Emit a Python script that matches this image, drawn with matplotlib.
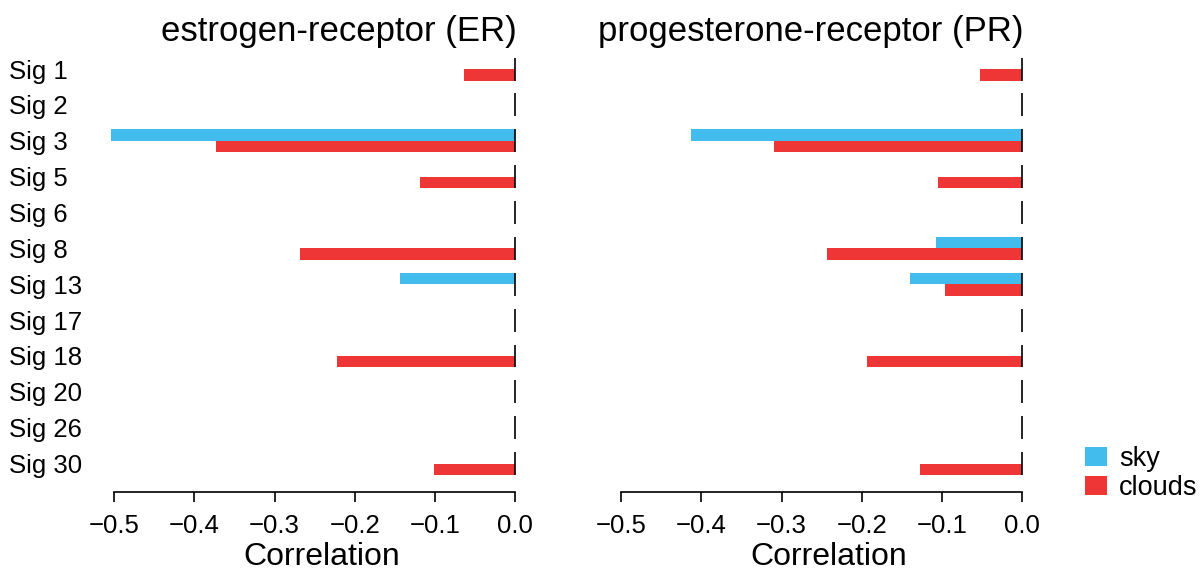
import matplotlib
matplotlib.use("Agg")
import matplotlib.pyplot as plt
from matplotlib.patches import Patch
import numpy as np

plt.rcParams['font.family'] = ['Liberation Sans', 'DejaVu Sans']

# signatures, top to bottom
sigs = ['Sig 1', 'Sig 2', 'Sig 3', 'Sig 5', 'Sig 6', 'Sig 8', 'Sig 13',
        'Sig 17', 'Sig 18', 'Sig 20', 'Sig 26', 'Sig 30']

# correlations, estrogen receptor
er_sky = [0, 0, -0.504, 0, 0, 0, -0.144, 0, 0, 0, 0, 0]
er_clouds = [-0.064, 0, -0.373, -0.119, 0, -0.268, 0, 0, -0.222, 0, 0, -0.101]

# correlations, progesterone receptor
pr_sky = [0, 0, -0.413, 0, 0, -0.108, -0.140, 0, 0, 0, 0, 0]
pr_clouds = [-0.053, 0, -0.309, -0.105, 0, -0.244, -0.097, 0, -0.193, 0, 0, -0.128]

titles = ['estrogen-receptor (ER)', 'progesterone-receptor (PR)']
xticks = [-0.5, -0.4, -0.3, -0.2, -0.1, 0.0]

sky_col = '#41BCEC'
cloud_col = '#EE3636'

W, H = 1203, 572
fig = plt.figure(figsize=(W / 100, H / 100), dpi=100)

def px_axes(x0, x1, ytop, ybot):
    return fig.add_axes([x0 / W, 1 - ybot / H, (x1 - x0) / W, (ybot - ytop) / H])

axL = px_axes(106, 517, 47.5, 492.3)
axR = px_axes(613, 1024, 47.5, 492.3)

y = np.arange(len(sigs))
bh = 0.32

for ax, sky, clouds, title in [(axL, er_sky, er_clouds, titles[0]),
                               (axR, pr_sky, pr_clouds, titles[1])]:
    ax.barh(y - bh / 2, sky, height=bh, color=sky_col, linewidth=0)
    ax.barh(y + bh / 2, clouds, height=bh, color=cloud_col, linewidth=0)
    # zero line drawn per row
    ax.vlines(np.zeros(len(sigs)), y - bh, y + bh, color='black', lw=1.2)
    ax.set_xlim(-0.51, 0.002)
    ax.set_ylim(11.8, -0.6)
    ax.set_xticks(xticks)
    ax.set_xticklabels([f'{t:.1f}'.replace('-', '\u2212') if t != 0 else '0.0' for t in xticks])
    ax.tick_params(axis='x', direction='out', length=7.5, width=1.2, pad=8, labelsize=18.5)
    for s in ['top', 'right', 'left']:
        ax.spines[s].set_visible(False)
    ax.spines['bottom'].set_bounds(-0.5, 0.0)
    ax.spines['bottom'].set_linewidth(1.2)
    ax.set_xlabel('Correlation', fontsize=23)
    ax.xaxis.set_label_coords(0.525, -0.112)
    ax.set_title(title, loc='right', fontsize=25, pad=5)
    ax.title.set_x(0.993)
    ax.set_yticks([])

axL.set_yticks(y)
axL.set_yticklabels(sigs, fontsize=18.5, ha='left')
axL.tick_params(axis='y', length=0, pad=70)

handles = [Patch(color=sky_col, linewidth=0), Patch(color=cloud_col, linewidth=0)]
fig.legend(handles, ['sky', 'clouds'], loc='upper left',
           bbox_to_anchor=(1085 / W, 1 - 446 / H), frameon=False, fontsize=19.5,
           handlelength=0.8, handleheight=0.7, handletextpad=0.45,
           labelspacing=0.1, borderpad=0, borderaxespad=0)

fig.savefig('out.png', dpi=100)
